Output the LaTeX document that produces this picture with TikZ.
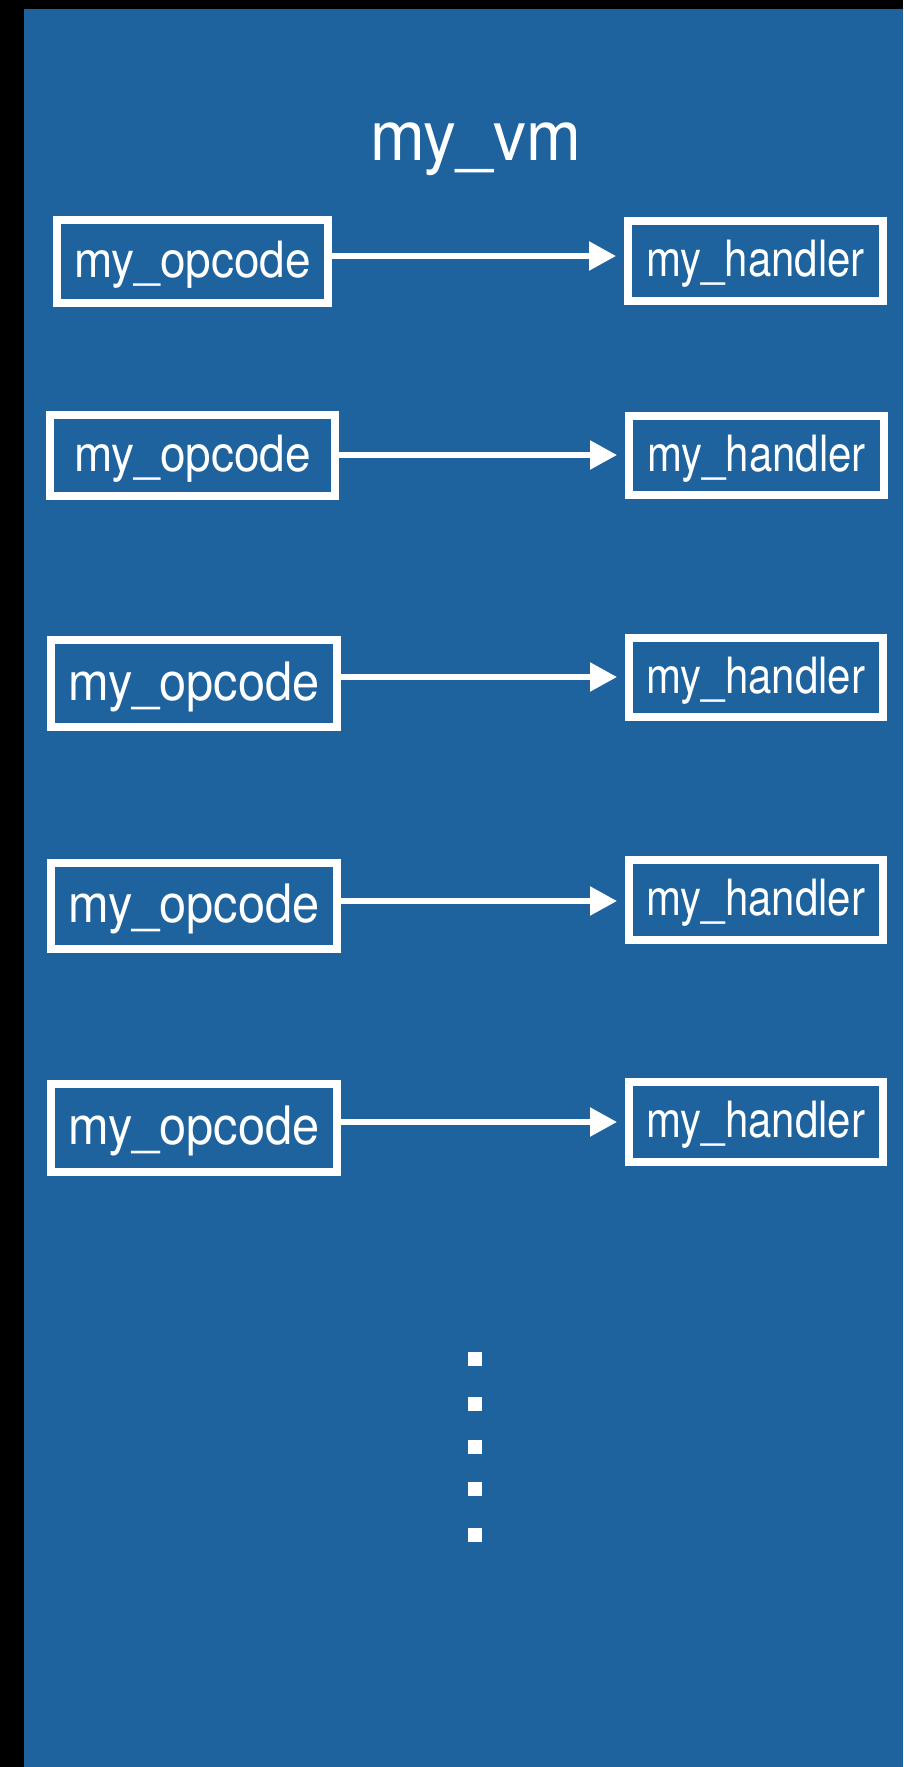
\documentclass[tikz,border=0pt]{standalone}
\usepackage{fontspec}
\setmainfont{TeX Gyre Heros}
\usetikzlibrary{arrows.meta}
\definecolor{slide}{RGB}{30,99,158}
\tikzset{
  every node/.style={text=white, inner sep=0pt, outer sep=0pt},
  cell/.style={draw=white, line width=8pt, minimum width=#1},
  opbox/.style={cell=286pt, minimum height=87pt, font=\fontsize{53}{60}\selectfont},
  hbox/.style={cell=254pt, minimum height=80pt, font=\fontsize{50}{60}\selectfont},
  link/.style={draw=white, line width=5.5pt, -{Triangle[length=27pt,width=28pt]}, shorten >=12pt},
  dot/.style={fill=white, minimum width=14pt, minimum height=14pt}
}
% box labels sit a little below the optical centre of their boxes
\newcommand{\lowered}[1]{\raisebox{-3pt}[\height][\depth]{#1}}
\newcommand{\opname}{\lowered{\scalebox{0.92}[1]{my\_opcode}}}
\newcommand{\hname}{\lowered{\scalebox{0.84}[1]{my\_handler}}}
\begin{document}
\begin{tikzpicture}[x=1pt, y=-1pt]
  % frame: dark strip at top and left, blue slide area
  \fill[black] (0,0) rectangle (903,1767);
  \fill[slide] (24,9) rectangle (903,1767);

  % heading
  \node[anchor=base, font=\fontsize{70}{80}\selectfont] (title) at (475.5,160)
    {\scalebox{0.94}[1]{my\_vm}};

  % opcode boxes
  \node[opbox, minimum width=271pt, minimum height=83pt, font=\fontsize{50}{60}\selectfont] (o1) at (192.5,261.5) {\opname};
  \node[opbox, minimum width=285pt, minimum height=81pt, font=\fontsize{50}{60}\selectfont] (o2) at (192.5,455.5) {\opname};
  \node[opbox] (o3) at (194,683.5) {\opname};
  \node[opbox, minimum height=86pt] (o4) at (194,906) {\opname};
  \node[opbox, minimum height=88pt] (o5) at (194,1128) {\opname};

  % handler boxes
  \node[hbox, minimum width=255pt] (h1) at (755.5,261) {\hname};
  \node[hbox, minimum width=255pt, minimum height=79pt] (h2) at (756.5,455.5) {\hname};
  \node[hbox, minimum height=79pt] (h3) at (756,677.5) {\hname};
  \node[hbox] (h4) at (756,900) {\hname};
  \node[hbox] (h5) at (756,1122) {\hname};

  % heights of the connectors
  \coordinate (y1) at (475,256);
  \coordinate (y2) at (475,455);
  \coordinate (y3) at (475,677);
  \coordinate (y4) at (475,901);
  \coordinate (y5) at (475,1122);

  \foreach \i in {1,...,5}
    \draw[link] (o\i.east |- y\i) -- (h\i.west |- y\i);

  % continuation marks
  \node[dot] (d1) at (475,1359) {};
  \node[dot] (d2) at (475,1404) {};
  \node[dot] (d3) at (475,1447) {};
  \node[dot] (d4) at (475,1489) {};
  \node[dot] (d5) at (475,1535) {};
\end{tikzpicture}
\end{document}
